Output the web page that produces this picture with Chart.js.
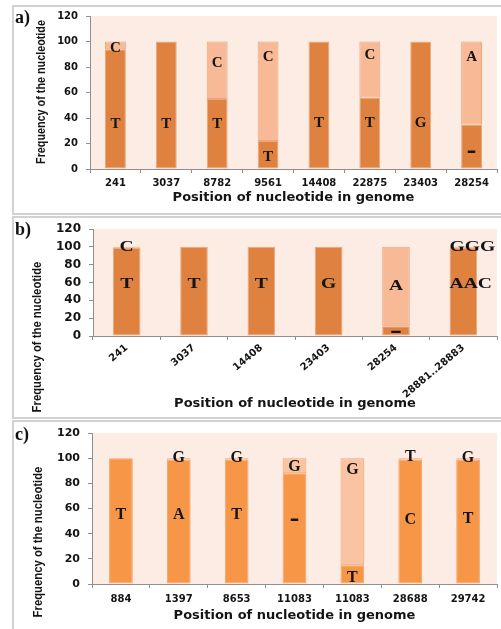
<!DOCTYPE html>
<html>
<head>
<meta charset="utf-8">
<script src="https://cdn.jsdelivr.net/npm/chart.js@4.4.0/dist/chart.umd.min.js"></script>
<style>
  html, body { margin: 0; padding: 0; background: #fff; }
  body { position: relative; width: 501px; height: 629px; overflow: hidden; }
  .frame { position: absolute; left: 12px; width: 500px; box-sizing: border-box;
           border: 2px solid #d2d2d2; border-right: none; }
  .tag { position: absolute; font: bold 18px "Liberation Serif", "DejaVu Serif", serif; color: #111; line-height: 1; }
  canvas { position: absolute; left: 0; }
</style>
</head>
<body>
<div class="frame" style="top:5px;height:210px"></div>
<div class="frame" style="top:216px;height:203px"></div>
<div class="frame" style="top:420px;height:220px"></div>

<canvas id="panelA" width="501" height="204" style="top:8px;width:501px;height:204px"></canvas>
<canvas id="panelB" width="501" height="197" style="top:219px;width:501px;height:197px"></canvas>
<canvas id="panelC" width="501" height="206" style="top:423px;width:501px;height:206px"></canvas>

<div class="tag" style="left:15px;top:8px">a)</div>
<div class="tag" style="left:15px;top:220px">b)</div>
<div class="tag" style="left:15px;top:425px">c)</div>

<script>
// ---- a) variant sites, first sample set ----
const positionsA = ['241', '3037', '8782', '9561', '14408', '22875', '23403', '28254'];
const lowerA     = [94, 100, 55, 22, 100, 56, 100, 35];
const upperA     = [6, 0, 45, 78, 0, 44, 0, 65];
const lowerBaseA = ['T', 'T', 'T', 'T', 'T', 'T', 'G', '\u2013'];
const upperBaseA = ['C', '', 'C', 'C', '', 'C', '', 'A'];

// ---- b) variant sites, second sample set ----
const positionsB = ['241', '3037', '14408', '23403', '28254', '28881..28883'];
const lowerB     = [99, 100, 100, 100, 11, 99];
const upperB     = [1, 0, 0, 0, 89, 1];
const lowerBaseB = ['T', 'T', 'T', 'G', '\u2013', 'AAC'];
const upperBaseB = ['C', '', '', '', 'A', 'GGG'];

// ---- c) variant sites, third sample set ----
const positionsC = ['884', '1397', '8653', '11083', '11083', '28688', '29742'];
const lowerC     = [100, 99, 99, 88, 15, 99, 99];
const upperC     = [0, 1, 1, 12, 85, 1, 1];
const lowerBaseC = ['T', 'A', 'T', '\u2013', 'T', 'C', 'T'];
const upperBaseC = ['', 'G', 'G', 'G', 'G', 'T', 'G'];

const yTicks = [0, 20, 40, 60, 80, 100, 120];
const xTitle = 'Position of nucleotide in genome';
const yTitle = 'Frequency of the nucleotide';

// Fills the plotting region with the pale panel colour.
const plotFill = {
  id: 'plotFill',
  beforeDraw(chart, args, opts) {
    const { ctx, chartArea: a } = chart;
    ctx.save();
    ctx.fillStyle = opts.color;
    ctx.fillRect(a.left, a.top, a.right - a.left, a.bottom - a.top);
    ctx.restore();
  }
};

// Writes the base letters on the stacked segments.
const baseLetters = {
  id: 'baseLetters',
  afterDatasetsDraw(chart, args, opts) {
    const ctx = chart.ctx;
    const yScale = chart.scales.y;
    opts.sets.forEach((set, di) => {
      const meta = chart.getDatasetMeta(di);
      set.text.forEach((t, i) => {
        if (!t || set.at[i] == null) return;
        const bar = meta.data[i];
        ctx.save();
        ctx.font = t === '\u2013' ? opts.dashFont : opts.font;
        const w = ctx.measureText(t).width * opts.scaleX;
        const left = bar.x - bar.width / 2;
        const cx = Math.max(bar.x, left + w / 2);
        ctx.translate(cx, yScale.getPixelForValue(set.at[i]));
        ctx.scale(opts.scaleX, 1);
        ctx.textAlign = 'center';
        ctx.textBaseline = 'middle';
        ctx.fillStyle = '#141414';
        ctx.fillText(t, 0, 0);
        ctx.restore();
      });
    });
  }
};

// Vertical axis title drawn with a condensed face.
const sideTitle = {
  id: 'sideTitle',
  afterDraw(chart, args, opts) {
    const ctx = chart.ctx;
    ctx.save();
    ctx.translate(opts.x, opts.y);
    ctx.rotate(-Math.PI / 2);
    ctx.scale(opts.squeeze, 1);
    ctx.font = opts.font;
    ctx.fillStyle = '#141414';
    ctx.textAlign = 'center';
    ctx.textBaseline = 'middle';
    ctx.fillText(opts.text, 0, 0);
    ctx.restore();
  }
};

function makePanel(id, labels, lower, upper, lowerTxt, upperTxt, lowerAt, upperAt, look) {
  const axisGrey = '#8f8f8f';
  return new Chart(document.getElementById(id), {
    type: 'bar',
    data: {
      labels: labels,
      datasets: [
        { data: lower, backgroundColor: look.dark, borderColor: look.edge, borderWidth: 1,
          borderSkipped: false, barPercentage: 0.41, categoryPercentage: 1 },
        { data: upper, backgroundColor: look.light, borderColor: look.edge, borderWidth: 1,
          borderSkipped: false, barPercentage: 0.41, categoryPercentage: 1 }
      ]
    },
    options: {
      responsive: false,
      animation: false,
      events: [],
      layout: { padding: { top: look.padTop, right: 4, left: 0, bottom: 0 } },
      plugins: {
        legend: { display: false },
        tooltip: { enabled: false },
        plotFill: { color: '#fcece4' },
        baseLetters: {
          font: look.letterFont, dashFont: look.dashFont, scaleX: look.letterStretch,
          sets: [ { text: lowerTxt, at: lowerAt }, { text: upperTxt, at: upperAt } ]
        },
        sideTitle: { text: yTitle, x: look.titleX, y: look.titleY, squeeze: look.squeeze,
                     font: 'bold 13px "Liberation Sans", Arial, sans-serif' }
      },
      scales: {
        x: {
          stacked: true,
          grid: { drawOnChartArea: false, tickLength: 4, color: axisGrey, offset: true },
          border: { color: axisGrey },
          ticks: {
            autoSkip: false, color: '#141414', padding: look.xPad,
            minRotation: look.rot, maxRotation: look.rot,
            font: { family: 'DejaVu Sans', weight: 'bold', size: look.xTick }
          },
          title: {
            display: true, text: xTitle, color: '#141414',
            font: { family: 'DejaVu Sans', weight: 'bold', size: 13 },
            padding: { top: 0, bottom: look.titlePad }
          },
          afterFit(s) { s.height = look.xHeight; }
        },
        y: {
          stacked: true, min: 0, max: 120,
          afterBuildTicks(s) { s.ticks = yTicks.map(v => ({ value: v })); },
          grid: { drawOnChartArea: false, tickLength: 4, color: axisGrey },
          border: { color: axisGrey },
          ticks: {
            autoSkip: false, color: '#141414', padding: 8,
            font: { family: 'DejaVu Sans', weight: 'bold', size: look.yTick }
          },
          afterFit(s) { s.width = look.yWidth; s.paddingTop = 0; s.paddingBottom = 0; }
        }
      }
    },
    plugins: [plotFill, baseLetters, sideTitle]
  });
}

const warmA = { dark: '#df823f', light: '#f8b996', edge: '#eaa77f' };
const warmC = { dark: '#f79646', light: '#fac4a3', edge: '#f2a46e' };

makePanel('panelA', positionsA, lowerA, upperA, lowerBaseA, upperBaseA,
  [35, 35, 35, 9, 36, 36, 36, 13], [95, null, 83, 88, null, 89, null, 88],
  Object.assign({}, warmA, {
    padTop: 8, yWidth: 90, xHeight: 43, xPad: 4, titlePad: 7, rot: 0, xTick: 10, yTick: 10,
    letterFont: 'bold 15px "Liberation Serif", serif', dashFont: 'bold 19px "DejaVu Sans", sans-serif',
    letterStretch: 1.0, titleX: 41, titleY: 84, squeeze: 0.83
  }));

makePanel('panelB', positionsB, lowerB, upperB, lowerBaseB, upperBaseB,
  [58, 58, 58, 58, 4, 58], [99, null, null, null, 56, 99],
  Object.assign({}, warmA, {
    padTop: 10, yWidth: 93, xHeight: 80, xPad: 2, titlePad: 5, rot: 40, xTick: 10, yTick: 12,
    letterFont: 'bold 14px "Liberation Serif", serif', dashFont: 'bold 17px "DejaVu Sans", sans-serif',
    letterStretch: 1.4, titleX: 37, titleY: 118, squeeze: 0.87
  }));

makePanel('panelC', positionsC, lowerC, upperC, lowerBaseC, upperBaseC,
  [55, 55, 55, 51, 5, 51, 52], [null, 100, 100, 93, 91, 101, 100],
  Object.assign({}, warmC, {
    padTop: 10, yWidth: 92, xHeight: 45, xPad: 5, titlePad: 6, rot: 0, xTick: 10, yTick: 11,
    letterFont: 'bold 16px "Liberation Serif", serif', dashFont: 'bold 19px "DejaVu Sans", sans-serif',
    letterStretch: 1.0, titleX: 38, titleY: 119, squeeze: 0.87
  }));
</script>
</body>
</html>
